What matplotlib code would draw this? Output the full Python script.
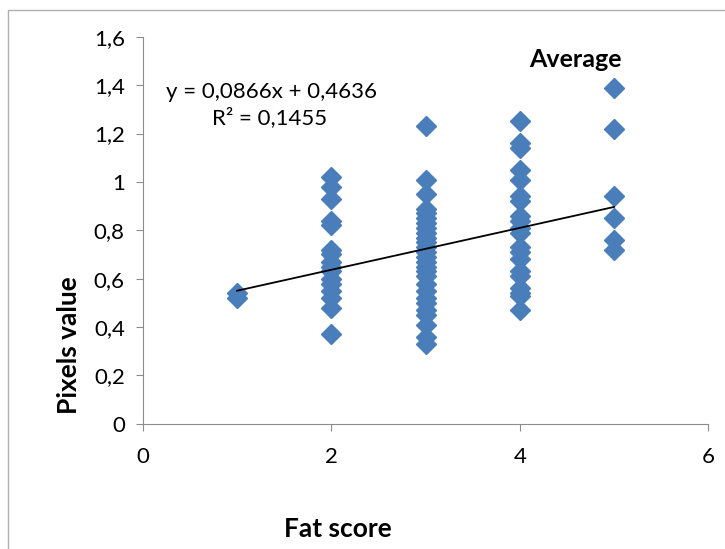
import numpy as np
import matplotlib.pyplot as plt
from matplotlib.patches import Rectangle
from matplotlib.ticker import FuncFormatter

# Fat score classes and pixel values
x1 = [1, 1]
y1 = [0.54, 0.52]
x2 = [2] * 16
y2 = [1.02, 0.98, 0.93, 0.84, 0.82, 0.72, 0.70, 0.67, 0.65, 0.63, 0.60, 0.58,
      0.55, 0.52, 0.48, 0.37]
x3 = [3] * 27
y3 = [1.23, 1.01, 0.95, 0.89, 0.87, 0.85, 0.83, 0.81, 0.79, 0.77, 0.75, 0.73,
      0.71, 0.69, 0.67, 0.65, 0.63, 0.61, 0.58, 0.55, 0.52, 0.50, 0.47, 0.45,
      0.41, 0.36, 0.33]
x4 = [4] * 20
y4 = [1.25, 1.16, 1.14, 1.05, 1.01, 0.94, 0.92, 0.86, 0.84, 0.81, 0.79, 0.73,
      0.71, 0.68, 0.63, 0.61, 0.56, 0.54, 0.53, 0.47]
x5 = [5] * 6
y5 = [1.39, 1.22, 0.94, 0.85, 0.76, 0.72]

xs = x1 + x2 + x3 + x4 + x5
ys = y1 + y2 + y3 + y4 + y5

# trendline as reported on the chart
slope = 0.0866
intercept = 0.4636
r2 = 0.1455

plt.rcParams['font.family'] = ['Lato', 'DejaVu Sans']

fig = plt.figure(figsize=(7.25, 5.49), dpi=100)
ax = fig.add_axes([0.197, 0.228, 0.78, 0.705])

fig.patches.append(Rectangle((0.011, -0.01), 1.0, 0.992, transform=fig.transFigure,
                             fill=False, edgecolor='#b0b0b0', linewidth=1))

ax.plot(xs, ys, linestyle='none', marker='D', markersize=10,
        color='#4a7ebb', markeredgecolor='#4a7ebb')

tx = np.array([min(xs), max(xs)])
ax.plot(tx, slope * tx + intercept, color='black', linewidth=1.3)

ax.set_xlim(0, 6)
ax.set_ylim(0, 1.6)
ax.set_xticks([0, 2, 4, 6])
ax.set_yticks(np.arange(0, 1.61, 0.2))
fmt = FuncFormatter(lambda v, p: ('%g' % round(v, 1)).replace('.', ','))
ax.xaxis.set_major_formatter(fmt)
ax.yaxis.set_major_formatter(fmt)

for s in ['top', 'right']:
    ax.spines[s].set_visible(False)
for s in ['left', 'bottom']:
    ax.spines[s].set_color('#8c8c8c')
ax.tick_params(colors='#8c8c8c', labelcolor='black', labelsize=16,
               length=5, direction='out')
ax.tick_params(axis='x', pad=12)
ax.tick_params(axis='y', pad=8)

ax.set_xlabel('Fat score', fontsize=19, fontweight='bold')
ax.set_ylabel('Pixels value', fontsize=19, fontweight='bold')
ax.xaxis.set_label_coords(0.345, -0.24)
ax.yaxis.set_label_coords(-0.11, 0.204)

ax.text(4.1, 1.505, 'Average', fontsize=18, fontweight='bold',
        ha='left', va='center')
ax.text(0.25, 1.372, 'y = 0,0866x + 0,4636', fontsize=16, ha='left', va='center')
ax.text(1.35, 1.265, 'R² = 0,1455', fontsize=16, ha='center', va='center')

fig.savefig('out.png', dpi=100)
